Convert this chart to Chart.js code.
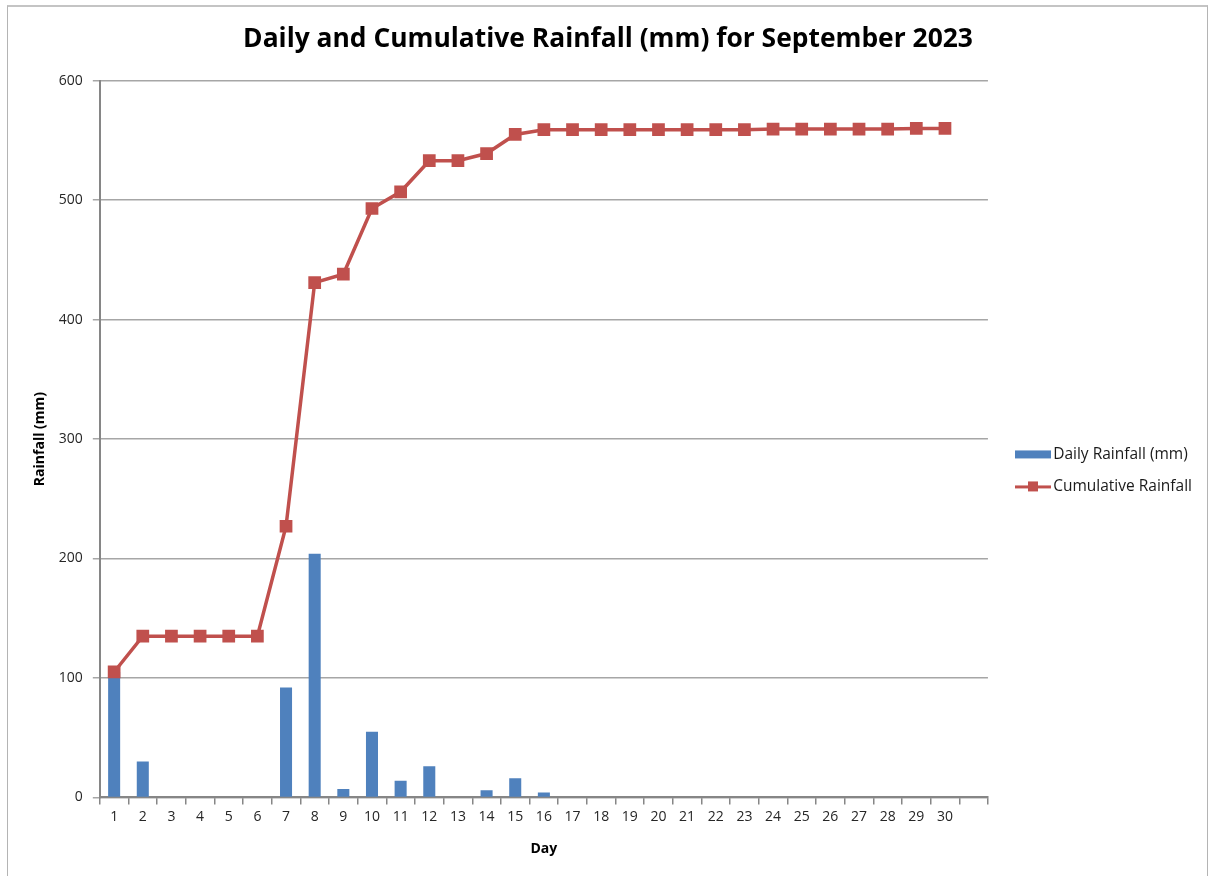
<!DOCTYPE html>
<html lang="en">
  <head>
    <meta charset="UTF-8" />
    <title>Daily and Cumulative Rainfall - September 2023</title>
    <script src="https://cdn.jsdelivr.net/npm/chart.js"></script>
    <style>
      html,
      body {
        margin: 0;
        padding: 0;
        background: #ffffff;
        overflow: hidden;
      }
      .wrap {
        position: relative;
        width: 1209px;
        height: 876px;
      }
      .frame {
        position: absolute;
        left: 7px;
        top: 5px;
        width: 1199px;
        height: 900px;
        border: 1px solid #b4b4b4;
        border-top: 2px solid #c4c4c4;
        pointer-events: none;
      }
    </style>
  </head>
  <body>
    <div class="wrap">
      <canvas id="rainChart" width="1209" height="876"></canvas>
      <div class="frame"></div>
    </div>

    <script>
      // day labels (the 31st slot is empty, as in the original sheet)
      const days = [
        "1", "2", "3", "4", "5", "6", "7", "8", "9", "10",
        "11", "12", "13", "14", "15", "16", "17", "18", "19", "20",
        "21", "22", "23", "24", "25", "26", "27", "28", "29", "30", "",
      ];

      const dailyRain = [
        105, 30, 0, 0, 0, 0, 92, 204, 7, 55,
        14, 26, 0, 6, 16, 4, 0, 0, 0, 0,
        0, 0, 0, 0.5, 0, 0, 0, 0, 0, 0,
      ];

      const cumulativeRain = [
        105, 135, 135, 135, 135, 135, 227, 431, 438, 493,
        507, 533, 533, 539, 555, 559, 559, 559, 559, 559,
        559, 559, 559, 559.5, 559.5, 559.5, 559.5, 559.5, 560, 560,
      ];

      const yTicks = [0, 100, 200, 300, 400, 500, 600];

      const BLUE = "#4f81bd";
      const RED = "#c0504d";
      const GRID = "#a6a6a6";
      const AXIS = "#868686";
      const FONT = "'Open Sans', 'Noto Sans', sans-serif";

      // legend icons, drawn at the right end of a wider transparent canvas
      function barIcon() {
        const c = document.createElement("canvas");
        c.width = 52;
        c.height = 10;
        const g = c.getContext("2d");
        g.fillStyle = BLUE;
        g.fillRect(16, 1, 36, 8);
        return c;
      }
      function lineIcon() {
        const c = document.createElement("canvas");
        c.width = 52;
        c.height = 12;
        const g = c.getContext("2d");
        g.fillStyle = RED;
        g.fillRect(16, 5, 36, 3);
        g.fillRect(29, 1, 10, 10);
        return c;
      }
      const icons = [barIcon(), lineIcon()];

      const ctx = document.getElementById("rainChart").getContext("2d");

      const rainChart = new Chart(ctx, {
        type: "bar",
        data: {
          labels: days,
          datasets: [
            {
              type: "bar",
              label: "Daily Rainfall (mm)",
              data: dailyRain,
              backgroundColor: BLUE,
              barPercentage: 0.42,
              categoryPercentage: 1,
              order: 2,
            },
            {
              type: "line",
              label: "Cumulative Rainfall",
              data: cumulativeRain,
              borderColor: RED,
              backgroundColor: RED,
              borderWidth: 3.5,
              pointStyle: "rect",
              pointRadius: 9,
              pointBorderWidth: 0,
              tension: 0,
              fill: false,
              order: 1,
            },
          ],
        },
        options: {
          responsive: false,
          animation: false,
          layout: {
            padding: { left: 14, right: 7, top: 0, bottom: 19 },
          },
          plugins: {
            title: {
              display: true,
              text: "Daily and Cumulative Rainfall (mm) for September 2023",
              color: "#000000",
              font: { family: FONT, size: 26.4, weight: "bold" },
              padding: { top: 24, bottom: 25 },
            },
            legend: {
              position: "right",
              title: {
                display: true,
                text: " ",
                font: { family: FONT, size: 14 },
                padding: { top: 67, bottom: 0 },
              },
              labels: {
                usePointStyle: true,
                pointStyleWidth: 41,
                color: "#1a1a1a",
                font: { family: FONT, size: 15.5 },
                padding: 16.5,
                generateLabels: (chart) =>
                  chart.data.datasets.map((ds, i) => ({
                    text: ds.label,
                    pointStyle: icons[i],
                    datasetIndex: i,
                    fontColor: "#1a1a1a",
                    hidden: !chart.isDatasetVisible(i),
                  })),
              },
            },
            tooltip: { enabled: false },
          },
          scales: {
            x: {
              offset: true,
              grid: {
                offset: true,
                drawOnChartArea: false,
                color: AXIS,
                lineWidth: 1.5,
                tickLength: 7,
              },
              border: { color: AXIS, width: 2 },
              ticks: {
                color: "#262626",
                font: { family: FONT, size: 14 },
                padding: 4,
                maxRotation: 0,
                autoSkip: false,
              },
              title: {
                display: true,
                text: "Day",
                color: "#000000",
                font: { family: FONT, size: 14, weight: "bold" },
                padding: { top: 11, bottom: 0 },
              },
            },
            y: {
              min: 0,
              max: 600,
              afterBuildTicks: (axis) => {
                axis.ticks = yTicks.map((v) => ({ value: v }));
              },
              grid: {
                color: GRID,
                lineWidth: 1.5,
                tickLength: 7,
              },
              border: { color: AXIS, width: 2 },
              ticks: {
                color: "#262626",
                font: { family: FONT, size: 14 },
                padding: 10,
              },
              title: {
                display: true,
                text: "Rainfall (mm)",
                color: "#000000",
                font: { family: FONT, size: 14, weight: "bold" },
                padding: { top: 18, bottom: 0 },
              },
            },
          },
        },
      });
    </script>
  </body>
</html>
